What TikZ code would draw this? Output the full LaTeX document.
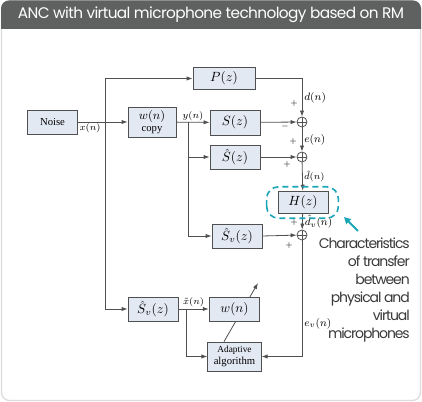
\documentclass[tikz,border=0pt]{standalone}
\usepackage{fontspec}
\setmainfont{Liberation Serif}
\newfontfamily\popfont[LetterSpace=-8]{Poppins}
\newfontfamily\titlefont[LetterSpace=-4]{Poppins}
\usetikzlibrary{arrows.meta, calc, positioning, backgrounds}
\definecolor{headgray}{HTML}{5F6060}
\definecolor{boxfill}{HTML}{E3E9F3}
\definecolor{linegray}{HTML}{505050}
\definecolor{anteal}{HTML}{1AA6B7}
\definecolor{cardline}{HTML}{DCDCDC}
\definecolor{notegray}{HTML}{3A3A3A}

\begin{document}
\begin{tikzpicture}[% styles used in image code
      x = 0.75pt, y = -0.75pt,
      > = {Latex[length=4.5pt,width=3.2pt]},
line/.style = {draw=linegray, line width=0.6pt},
blk/.style args = {#1/#2}{draw=linegray, fill=boxfill, line width=0.6pt,
              minimum width=#1, minimum height=#2,
              inner sep=1pt, align=center,
              font=\fontsize{8}{8.5}\selectfont},
sum/.style = {circle, draw=linegray, line width=0.6pt,
              minimum size=7.5pt, inner sep=0pt,
              path picture={\draw[linegray, line width=0.5pt]
                 (path picture bounding box.north) -- (path picture bounding box.south)
                 (path picture bounding box.west) -- (path picture bounding box.east);}},
lbl/.style = {font=\fontsize{8.5}{9}\selectfont, inner sep=1.5pt},
sml/.style = {font=\fontsize{7}{7.5}\selectfont, inner sep=1pt},
sgn/.style = {font=\fontsize{6.5}{7}\selectfont, inner sep=0pt},
mth/.style = {font=\fontsize{10}{10}\selectfont}
                        ]
	\useasboundingbox (0,0) rectangle (422,402);
	% card and header
	\begin{scope}[on background layer]
	\draw[cardline, line width=1pt, fill=white, rounded corners=6pt] (1.5,1) rectangle (420.5,400.5);
	\begin{scope}
		\clip (1,0.5) rectangle (421,29);
		\fill[headgray, rounded corners=6pt] (1,0.5) rectangle (421,60);
	\end{scope}
	\end{scope}
	\node[font=\titlefont\fontsize{11.5}{13}\selectfont, text=white] (title) at (211,15)
		{ANC with virtual microphone technology based on RM};

	% blocks
	\node[blk=38pt/18pt]      (noise) at (52.5,122) {Noise};
	\node[blk=36pt/22.5pt]    (wcopy) at (152,122)  {\fontsize{9}{8.5}\selectfont$w(n)$\\copy};
	\node[blk=46.5pt/17pt, mth]    (P)     at (224,78.5) {$P(z)$};
	\node[blk=37.5pt/18.75pt, mth] (S)     at (235,122.5){$S(z)$};
	\node[blk=37.5pt/18pt, mth]    (Sh)    at (235,157)  {$\hat{S}(z)$};
	\node[blk=37.5pt/17pt, mth]    (H)     at (303,202.5){$H(z)$};
	\node[blk=37.5pt/18pt, mth]    (Sv)    at (237,236)  {$\hat{S}_v(z)$};
	\node[blk=37.5pt/18pt, mth]    (Svx)   at (153,309)  {$\hat{S}_v(z)$};
	\node[blk=38pt/18pt, mth]      (w)     at (234.5,309){$w(n)$};
	\node[blk=40pt/21.75pt]   (adapt) at (234.5,356.5) {\fontsize{7}{8}\selectfont Adaptive\\algorithm};

	% sums
	\node[sum] (s1) at (302,122) {};
	\node[sum] (s2) at (302,157) {};
	\node[sum] (s3) at (302,235) {};

	% branch points
	\coordinate (xb)  at (105,122);
	\coordinate (yb)  at (188,122);
	\coordinate (xtb) at (186,309);

	% signal paths
	\draw[line,->] (noise) -- (wcopy) node[sml, pos=0.24, below] {$x(n)$};
	\draw[line,->] (xb) |- (P.west);
	\draw[line,->] (xb) |- (Svx.west);
	\draw[line,->] (wcopy) -- (S) node[sml, midway, above] {$y(n)$};
	\draw[line,->] (yb) |- (Sh.west);
	\draw[line,->] (yb) |- (Sv.west);
	\draw[line,->] (P.east) -| (s1.north) node[lbl, pos=0.75, right] {$d(n)$};
	\draw[line,->] (S) -- (s1);
	\draw[line,->] (s1) -- (s2) node[lbl, midway, right] {$e(n)$};
	\draw[line,->] (Sh) -- (s2);
	\draw[line,->] (s2) -- (H) node[sml, midway, right] {$\hat{d}(n)$};
	\draw[line,->] (H) -- (s3) node[lbl, midway, right] {$\hat{d}_v(n)$};
	\draw[line,->] (Sv.east) -- (s3);
	\draw[line,->] (s3.south) |- (adapt.east) node[lbl, pos=0.36, right] {$e_v(n)$};
	\draw[line,->] (Svx) -- (w) node[sml, midway, above] {$\tilde{x}(n)$};
	\draw[line,->] (xtb) |- (adapt.west);

	% adaptive update
	\coordinate (tip) at (258,283);
	\begin{scope}[on background layer]
	\draw[line,->] ($(adapt.north)+(-10.5,0)$) -- (tip);
	\end{scope}

	% signs
	\node[sgn] at ($(s1)+(-8,-18)$)  {$+$};
	\node[sgn] at ($(s1)+(-17,5)$)   {$-$};
	\node[sgn] at ($(s2)+(-9,-15)$)  {$+$};
	\node[sgn] at ($(s2)+(-15,8)$)   {$+$};
	\node[sgn] at ($(s3)+(-8,-12)$)  {$+$};
	\node[sgn] at ($(s3)+(-13,11)$)  {$+$};

	% note
	\draw[anteal, line width=1.2pt, dash pattern=on 4.5pt off 3pt, rounded corners=9pt]
		($(H.south west)+(-11,4)$) rectangle ($(H.north east)+(10,-4)$);
	\node[font=\popfont\fontsize{10.5}{13.5}\selectfont, text=notegray, align=right,
	      anchor=north east, inner sep=0pt] (note) at (410,238)
		{Characteristics\\of transfer\\between\\physical and\\virtual\\microphones};
	\coordinate (hint) at (358,231);
	\draw[anteal, line width=1.5pt, -{Triangle[length=5pt,width=5pt]}] (hint) -- (344,217);
\end{tikzpicture}
\end{document}
